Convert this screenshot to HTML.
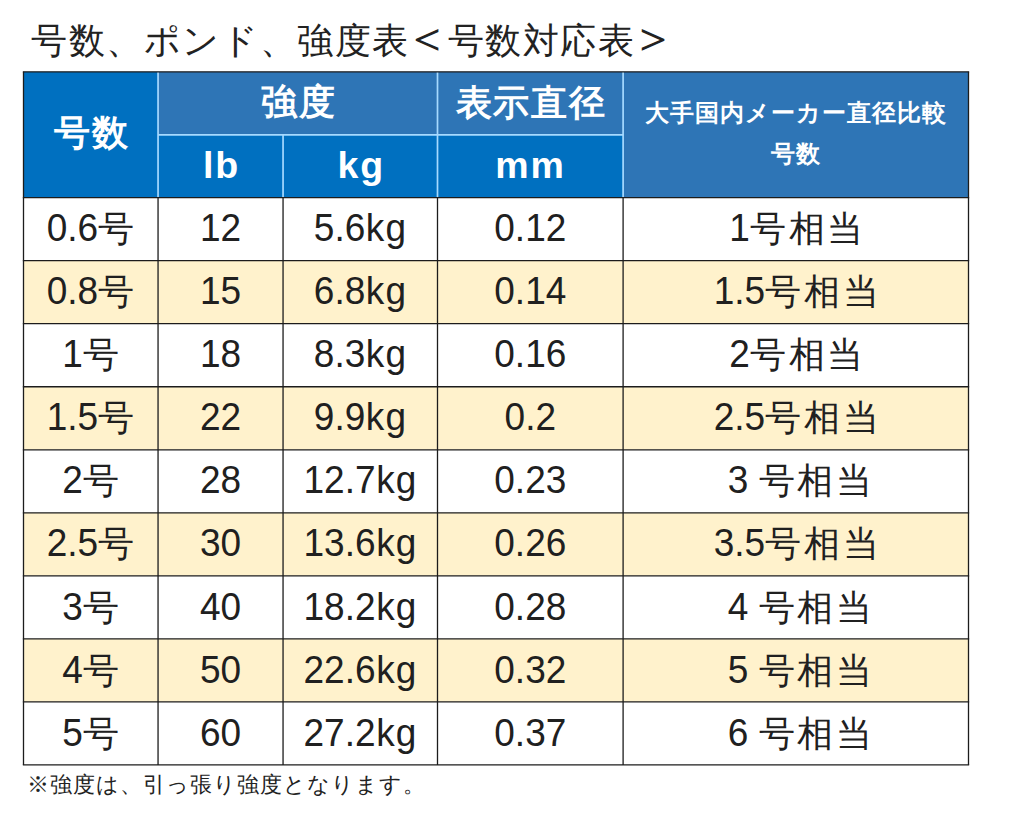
<!DOCTYPE html>
<html lang="ja"><head><meta charset="utf-8"><title>号数、ポンド、強度表</title>
<style>
html,body{margin:0;padding:0;background:#fff;}
body{width:1010px;height:814px;position:relative;overflow:hidden;font-family:"Liberation Sans",sans-serif;color:#1a1a1a;}
svg{position:absolute;left:0;top:0;}
.t{position:absolute;left:31px;top:22.5px;font-size:36px;letter-spacing:1.6px;line-height:1;white-space:nowrap;color:#222;}
.b{display:inline-block;transform:translate(-1.2px,-2.9px) scale(1.28,1.36);transform-origin:47% 55.5%;}
.f{position:absolute;left:26.5px;top:773.5px;font-size:22px;letter-spacing:1.0px;line-height:1;white-space:nowrap;color:#222;}
.c{position:absolute;display:flex;align-items:center;justify-content:center;text-align:center;white-space:nowrap;line-height:1;}
.d{display:block;font-size:37px;color:#202020;line-height:63px;}
.n{display:inline-block;line-height:1;white-space:pre;transform:scaleY(1.055);transform-origin:0 84.65%;}
.h{font-size:38px;font-weight:bold;color:#fff;}
.l{font-size:37.5px;letter-spacing:1.8px;padding-left:1.8px;box-sizing:border-box;}
.j{font-size:36px;letter-spacing:1.8px;}
.u{letter-spacing:1.2px;margin-left:0.6px;margin-right:-0.6px;}
.k{font-size:36px;letter-spacing:2.8px;margin-right:-2.8px;}
.s{font-size:24px;letter-spacing:1px;line-height:41px;}
</style></head><body>
<svg width="1010" height="814" viewBox="0 0 1010 814">
<rect x="23.50" y="71.80" width="134.55" height="125.85" fill="#0070C0"/>
<rect x="158.05" y="71.80" width="279.45" height="63.15" fill="#2E75B6"/>
<rect x="437.50" y="71.80" width="185.60" height="63.15" fill="#2E75B6"/>
<rect x="623.10" y="71.80" width="345.40" height="125.85" fill="#2E75B6"/>
<rect x="158.05" y="134.95" width="465.05" height="62.70" fill="#0070C0"/>
<rect x="23.50" y="197.65" width="945.00" height="63.03" fill="#FFFFFF"/>
<rect x="23.50" y="260.68" width="945.00" height="63.03" fill="#FFF2CC"/>
<rect x="23.50" y="323.72" width="945.00" height="63.03" fill="#FFFFFF"/>
<rect x="23.50" y="386.75" width="945.00" height="63.03" fill="#FFF2CC"/>
<rect x="23.50" y="449.78" width="945.00" height="63.03" fill="#FFFFFF"/>
<rect x="23.50" y="512.82" width="945.00" height="63.03" fill="#FFF2CC"/>
<rect x="23.50" y="575.85" width="945.00" height="63.03" fill="#FFFFFF"/>
<rect x="23.50" y="638.88" width="945.00" height="63.03" fill="#FFF2CC"/>
<rect x="23.50" y="701.92" width="945.00" height="63.03" fill="#FFFFFF"/>
<line x1="158.05" y1="71.80" x2="158.05" y2="197.65" stroke="#A6DAFF" stroke-width="1.7"/>
<line x1="437.50" y1="71.80" x2="437.50" y2="197.65" stroke="#A6DAFF" stroke-width="1.7"/>
<line x1="623.10" y1="71.80" x2="623.10" y2="197.65" stroke="#A6DAFF" stroke-width="1.7"/>
<line x1="283.05" y1="134.95" x2="283.05" y2="197.65" stroke="#A6DAFF" stroke-width="1.7"/>
<line x1="158.05" y1="134.95" x2="623.10" y2="134.95" stroke="#A6DAFF" stroke-width="1.7"/>
<line x1="22.85" y1="197.65" x2="969.15" y2="197.65" stroke="#1c1c1c" stroke-width="1.3"/>
<line x1="22.85" y1="260.68" x2="969.15" y2="260.68" stroke="#1c1c1c" stroke-width="1.3"/>
<line x1="22.85" y1="323.72" x2="969.15" y2="323.72" stroke="#1c1c1c" stroke-width="1.3"/>
<line x1="22.85" y1="386.75" x2="969.15" y2="386.75" stroke="#1c1c1c" stroke-width="1.3"/>
<line x1="22.85" y1="449.78" x2="969.15" y2="449.78" stroke="#1c1c1c" stroke-width="1.3"/>
<line x1="22.85" y1="512.82" x2="969.15" y2="512.82" stroke="#1c1c1c" stroke-width="1.3"/>
<line x1="22.85" y1="575.85" x2="969.15" y2="575.85" stroke="#1c1c1c" stroke-width="1.3"/>
<line x1="22.85" y1="638.88" x2="969.15" y2="638.88" stroke="#1c1c1c" stroke-width="1.3"/>
<line x1="22.85" y1="701.92" x2="969.15" y2="701.92" stroke="#1c1c1c" stroke-width="1.3"/>
<line x1="22.85" y1="764.95" x2="969.15" y2="764.95" stroke="#1c1c1c" stroke-width="1.3"/>
<line x1="22.85" y1="71.80" x2="969.15" y2="71.80" stroke="#1c1c1c" stroke-width="1.3"/>
<line x1="23.50" y1="71.80" x2="23.50" y2="764.95" stroke="#1c1c1c" stroke-width="1.3"/>
<line x1="968.50" y1="71.80" x2="968.50" y2="764.95" stroke="#1c1c1c" stroke-width="1.3"/>
<line x1="158.05" y1="197.65" x2="158.05" y2="764.95" stroke="#1c1c1c" stroke-width="1.3"/>
<line x1="283.05" y1="197.65" x2="283.05" y2="764.95" stroke="#1c1c1c" stroke-width="1.3"/>
<line x1="437.50" y1="197.65" x2="437.50" y2="764.95" stroke="#1c1c1c" stroke-width="1.3"/>
<line x1="623.10" y1="197.65" x2="623.10" y2="764.95" stroke="#1c1c1c" stroke-width="1.3"/>
</svg>
<div class="t">号数、ポンド、強度表<span class="b">＜</span>号数対応表<span class="b">＞</span></div>
<div class="c h j" style="left:24.4px;top:69.8px;width:134.6px;height:125.9px">号数</div>
<div class="c h j" style="left:159.0px;top:70.8px;width:279.4px;height:63.1px">強度</div>
<div class="c h j" style="left:438.4px;top:71.3px;width:185.6px;height:63.1px">表示直径</div>
<div class="c h l" style="left:158.1px;top:134.9px;width:125.0px;height:62.7px">lb</div>
<div class="c h l" style="left:283.1px;top:134.9px;width:154.4px;height:62.7px">kg</div>
<div class="c h l" style="left:436.7px;top:134.9px;width:185.6px;height:62.7px">mm</div>
<div class="c h s" style="left:623.6px;top:70.2px;width:345.4px;height:125.9px">大手国内メーカー直径比較<br>号数</div>
<div class="c d" style="left:23.2px;top:197.2px;width:134.6px;height:63.0px"><span class="n">0.6</span><span class="k">号</span></div>
<div class="c d" style="left:158.1px;top:197.2px;width:125.0px;height:63.0px"><span class="n">12</span></div>
<div class="c d" style="left:283.1px;top:197.2px;width:154.4px;height:63.0px"><span class="n">5.6</span><span class="n u">kg</span></div>
<div class="c d" style="left:437.5px;top:197.2px;width:185.6px;height:63.0px"><span class="n">0.12</span></div>
<div class="c d" style="left:623.6px;top:197.2px;width:345.4px;height:63.0px"><span class="n">1</span><span class="k">号相当</span></div>
<div class="c d" style="left:23.2px;top:260.3px;width:134.6px;height:63.0px"><span class="n">0.8</span><span class="k">号</span></div>
<div class="c d" style="left:158.1px;top:260.3px;width:125.0px;height:63.0px"><span class="n">15</span></div>
<div class="c d" style="left:283.1px;top:260.3px;width:154.4px;height:63.0px"><span class="n">6.8</span><span class="n u">kg</span></div>
<div class="c d" style="left:437.5px;top:260.3px;width:185.6px;height:63.0px"><span class="n">0.14</span></div>
<div class="c d" style="left:623.6px;top:260.3px;width:345.4px;height:63.0px"><span class="n">1.5</span><span class="k">号相当</span></div>
<div class="c d" style="left:23.2px;top:323.3px;width:134.6px;height:63.0px"><span class="n">1</span><span class="k">号</span></div>
<div class="c d" style="left:158.1px;top:323.3px;width:125.0px;height:63.0px"><span class="n">18</span></div>
<div class="c d" style="left:283.1px;top:323.3px;width:154.4px;height:63.0px"><span class="n">8.3</span><span class="n u">kg</span></div>
<div class="c d" style="left:437.5px;top:323.3px;width:185.6px;height:63.0px"><span class="n">0.16</span></div>
<div class="c d" style="left:623.6px;top:323.3px;width:345.4px;height:63.0px"><span class="n">2</span><span class="k">号相当</span></div>
<div class="c d" style="left:23.2px;top:386.4px;width:134.6px;height:63.0px"><span class="n">1.5</span><span class="k">号</span></div>
<div class="c d" style="left:158.1px;top:386.4px;width:125.0px;height:63.0px"><span class="n">22</span></div>
<div class="c d" style="left:283.1px;top:386.4px;width:154.4px;height:63.0px"><span class="n">9.9</span><span class="n u">kg</span></div>
<div class="c d" style="left:437.5px;top:386.4px;width:185.6px;height:63.0px"><span class="n">0.2</span></div>
<div class="c d" style="left:623.6px;top:386.4px;width:345.4px;height:63.0px"><span class="n">2.5</span><span class="k">号相当</span></div>
<div class="c d" style="left:23.2px;top:449.4px;width:134.6px;height:63.0px"><span class="n">2</span><span class="k">号</span></div>
<div class="c d" style="left:158.1px;top:449.4px;width:125.0px;height:63.0px"><span class="n">28</span></div>
<div class="c d" style="left:283.1px;top:449.4px;width:154.4px;height:63.0px"><span class="n">12.7</span><span class="n u">kg</span></div>
<div class="c d" style="left:437.5px;top:449.4px;width:185.6px;height:63.0px"><span class="n">0.23</span></div>
<div class="c d" style="left:627.2px;top:449.4px;width:345.4px;height:63.0px"><span class="n">3 </span><span class="k">号相当</span></div>
<div class="c d" style="left:23.2px;top:512.4px;width:134.6px;height:63.0px"><span class="n">2.5</span><span class="k">号</span></div>
<div class="c d" style="left:158.1px;top:512.4px;width:125.0px;height:63.0px"><span class="n">30</span></div>
<div class="c d" style="left:283.1px;top:512.4px;width:154.4px;height:63.0px"><span class="n">13.6</span><span class="n u">kg</span></div>
<div class="c d" style="left:437.5px;top:512.4px;width:185.6px;height:63.0px"><span class="n">0.26</span></div>
<div class="c d" style="left:623.6px;top:512.4px;width:345.4px;height:63.0px"><span class="n">3.5</span><span class="k">号相当</span></div>
<div class="c d" style="left:23.2px;top:575.5px;width:134.6px;height:63.0px"><span class="n">3</span><span class="k">号</span></div>
<div class="c d" style="left:158.1px;top:575.5px;width:125.0px;height:63.0px"><span class="n">40</span></div>
<div class="c d" style="left:283.1px;top:575.5px;width:154.4px;height:63.0px"><span class="n">18.2</span><span class="n u">kg</span></div>
<div class="c d" style="left:437.5px;top:575.5px;width:185.6px;height:63.0px"><span class="n">0.28</span></div>
<div class="c d" style="left:627.2px;top:575.5px;width:345.4px;height:63.0px"><span class="n">4 </span><span class="k">号相当</span></div>
<div class="c d" style="left:23.2px;top:638.5px;width:134.6px;height:63.0px"><span class="n">4</span><span class="k">号</span></div>
<div class="c d" style="left:158.1px;top:638.5px;width:125.0px;height:63.0px"><span class="n">50</span></div>
<div class="c d" style="left:283.1px;top:638.5px;width:154.4px;height:63.0px"><span class="n">22.6</span><span class="n u">kg</span></div>
<div class="c d" style="left:437.5px;top:638.5px;width:185.6px;height:63.0px"><span class="n">0.32</span></div>
<div class="c d" style="left:627.2px;top:638.5px;width:345.4px;height:63.0px"><span class="n">5 </span><span class="k">号相当</span></div>
<div class="c d" style="left:23.2px;top:701.5px;width:134.6px;height:63.0px"><span class="n">5</span><span class="k">号</span></div>
<div class="c d" style="left:158.1px;top:701.5px;width:125.0px;height:63.0px"><span class="n">60</span></div>
<div class="c d" style="left:283.1px;top:701.5px;width:154.4px;height:63.0px"><span class="n">27.2</span><span class="n u">kg</span></div>
<div class="c d" style="left:437.5px;top:701.5px;width:185.6px;height:63.0px"><span class="n">0.37</span></div>
<div class="c d" style="left:627.2px;top:701.5px;width:345.4px;height:63.0px"><span class="n">6 </span><span class="k">号相当</span></div>
<div class="f">※強度は、引っ張り強度となります。</div>
</body></html>
